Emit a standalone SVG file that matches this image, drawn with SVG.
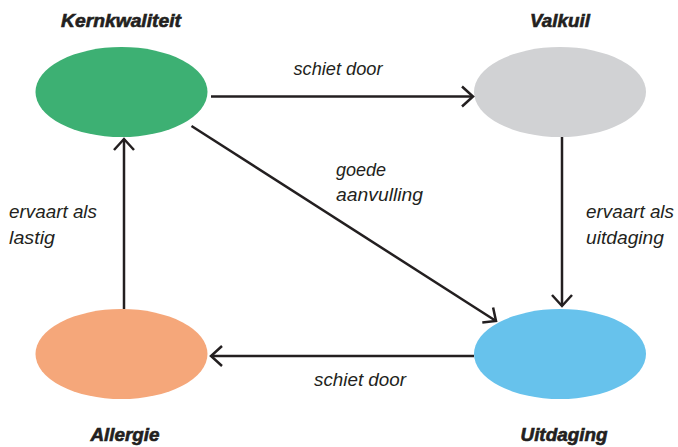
<svg xmlns="http://www.w3.org/2000/svg" width="678" height="447" viewBox="0 0 678 447">
  <style>
    .title { font-family: "Liberation Sans", Arial, sans-serif; font-weight: bold; font-style: italic; font-size: 18px; fill: #231f20; stroke: #231f20; stroke-width: 0.6; text-anchor: middle; }
    .lbl { font-family: "Liberation Sans", Arial, sans-serif; font-style: italic; font-size: 18px; fill: #231f20; }
    .edge { fill: none; stroke: #231f20; stroke-width: 2.5; }
    .head { fill: none; stroke: #231f20; stroke-width: 2.5; stroke-linejoin: miter; }
  </style>
  <rect width="678" height="447" fill="#ffffff"/>

  <g id="kernkwaliteit">
    <ellipse cx="121.5" cy="92" rx="86" ry="45" fill="#3db073"/>
    <text class="title" x="121" y="27" textLength="120" lengthAdjust="spacingAndGlyphs">Kernkwaliteit</text>
  </g>
  <g id="valkuil">
    <ellipse cx="560" cy="92" rx="86" ry="45" fill="#d1d2d4"/>
    <text class="title" x="560" y="27" textLength="60" lengthAdjust="spacingAndGlyphs">Valkuil</text>
  </g>
  <g id="allergie">
    <ellipse cx="121.5" cy="354" rx="86" ry="45" fill="#f5a77a"/>
    <text class="title" x="125" y="441" textLength="69" lengthAdjust="spacingAndGlyphs">Allergie</text>
  </g>
  <g id="uitdaging">
    <ellipse cx="560" cy="354" rx="86" ry="45" fill="#67c2ec"/>
    <text class="title" x="564" y="441" textLength="87" lengthAdjust="spacingAndGlyphs">Uitdaging</text>
  </g>

  <g id="connectors">
    <!-- Kernkwaliteit to Valkuil -->
    <line class="edge" x1="211" y1="96.5" x2="473" y2="96.5"/>
    <polyline class="head" points="462,86.5 473,96.5 462,106.5"/>
    <!-- Valkuil to Uitdaging -->
    <line class="edge" x1="562" y1="137" x2="562" y2="306"/>
    <polyline class="head" points="552,295 562,306 572,295"/>
    <!-- Uitdaging to Allergie -->
    <line class="edge" x1="474" y1="356" x2="211" y2="356"/>
    <polyline class="head" points="222,346 211,356 222,366"/>
    <!-- Allergie to Kernkwaliteit -->
    <line class="edge" x1="124" y1="309" x2="124" y2="139"/>
    <polyline class="head" points="114,150 124,139 134,150"/>
    <!-- Kernkwaliteit to Uitdaging -->
    <line class="edge" x1="191.5" y1="126" x2="496" y2="321"/>
    <polyline class="head" points="482.3,322.6 496,321 493.1,307.5"/>
  </g>

  <g id="edge-labels">
    <text class="lbl" x="338" y="74.5" text-anchor="middle" textLength="89" lengthAdjust="spacingAndGlyphs">schiet door</text>
    <text class="lbl" x="360" y="386" text-anchor="middle" textLength="92" lengthAdjust="spacingAndGlyphs">schiet door</text>
    <text class="lbl" x="336" y="176" textLength="50" lengthAdjust="spacingAndGlyphs">goede</text>
    <text class="lbl" x="336" y="201" textLength="87" lengthAdjust="spacingAndGlyphs">aanvulling</text>
    <text class="lbl" x="9" y="218" textLength="88" lengthAdjust="spacingAndGlyphs">ervaart als</text>
    <text class="lbl" x="9" y="244" textLength="46" lengthAdjust="spacingAndGlyphs">lastig</text>
    <text class="lbl" x="586" y="218" textLength="88" lengthAdjust="spacingAndGlyphs">ervaart als</text>
    <text class="lbl" x="586" y="244" textLength="78" lengthAdjust="spacingAndGlyphs">uitdaging</text>
  </g>
</svg>
